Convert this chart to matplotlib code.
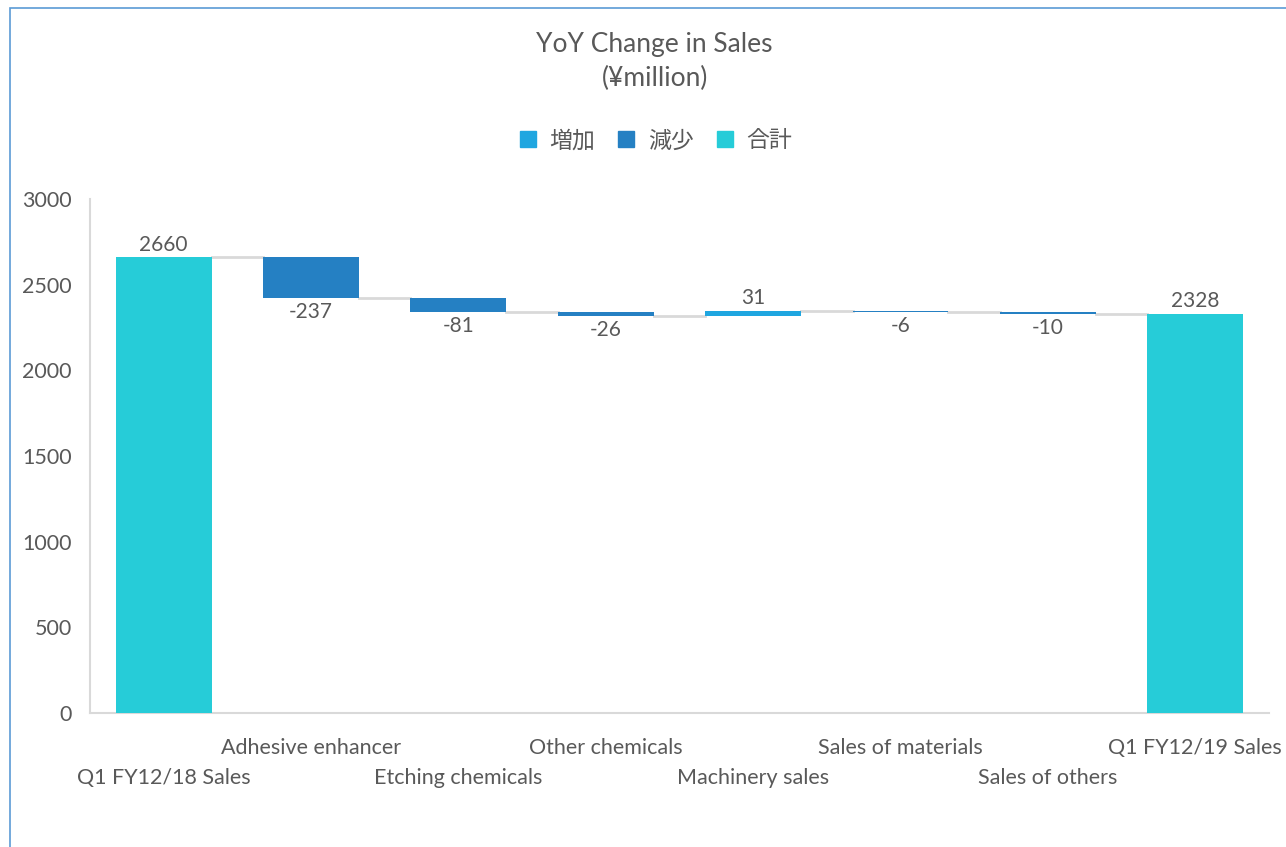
import matplotlib
matplotlib.use('Agg')
import matplotlib.pyplot as plt
from matplotlib.patches import Rectangle
import numpy as np

plt.rcParams['font.family'] = ['Lato', 'Noto Sans CJK JP', 'DejaVu Sans']

# data
categories = ['Q1 FY12/18 Sales', 'Adhesive enhancer', 'Etching chemicals', 'Other chemicals',
              'Machinery sales', 'Sales of materials', 'Sales of others', 'Q1 FY12/19 Sales']
changes = [2660, -237, -81, -26, 31, -6, -10, 2328]
is_total = [True, False, False, False, False, False, False, True]
legend_labels = ['増加', '減少', '合計']

col_up = '#1fa6e0'
col_down = '#2580c3'
col_total = '#26ccd8'
txt = '#595959'
grid_col = '#d9d9d9'

fig = plt.figure(figsize=(12.86, 8.47), dpi=100)
ax = fig.add_axes([0.0700, 0.1582, 0.9166, 0.6068])

bw = 0.65
x = np.arange(len(categories))
level = 0
ends = []
for i, v in enumerate(changes):
    if is_total[i]:
        bottom, height, c = 0, v, col_total
        level = v
    elif v >= 0:
        bottom, height, c = level, v, col_up
        level += v
    else:
        bottom, height, c = level + v, -v, col_down
        level += v
    ax.bar(i, height, bottom=bottom, width=bw, color=c, zorder=3)
    ends.append(level)
    if is_total[i] or v >= 0:
        ax.annotate(str(v), (i, bottom + height), xytext=(0, 2), textcoords='offset points',
                    ha='center', va='bottom', fontsize=15, color=txt)
    else:
        ax.annotate(str(v), (i, bottom), xytext=(0, -3), textcoords='offset points',
                    ha='center', va='top', fontsize=15, color=txt)

# connectors
for i in range(len(categories) - 1):
    ax.plot([i + bw / 2, i + 1 - bw / 2], [ends[i], ends[i]], color=grid_col, lw=2, zorder=2)

ax.set_xlim(-0.5, len(categories) - 0.5)
ax.set_ylim(0, 3000)
ax.set_yticks(np.arange(0, 3001, 500))
ax.tick_params(axis='y', length=0, labelsize=15.5, labelcolor=txt, pad=13)
ax.set_xticks([])
for s in ['top', 'right']:
    ax.spines[s].set_visible(False)
for s in ['left', 'bottom']:
    ax.spines[s].set_color(grid_col)
    ax.spines[s].set_linewidth(1.5)

for i, name in enumerate(categories):
    off = -47 if i % 2 == 0 else -25
    ax.annotate(name, (i, 0), xycoords=('data', 'axes fraction'), xytext=(0, off),
                textcoords='offset points', ha='center', va='center', fontsize=15.5, color=txt)

fig.text(0.509, 0.947, 'YoY Change in Sales', ha='center', va='center', fontsize=19, color=txt)
fig.text(0.509, 0.907, '(¥million)', ha='center', va='center', fontsize=19, color=txt)

handles = [Rectangle((0, 0), 1, 1, color=c) for c in (col_up, col_down, col_total)]
fig.legend(handles, legend_labels, loc='center', bbox_to_anchor=(0.51, 0.834), ncol=3,
           frameon=False, fontsize=16.5, labelcolor=txt, handlelength=0.7, handleheight=0.7,
           handletextpad=0.6, columnspacing=1.0)

fig.patches.append(Rectangle((10 / 1286, -0.1), 1.2, 1.1 - 8 / 847, transform=fig.transFigure,
                             fill=False, edgecolor='#5b9bd5', lw=1.2))

fig.savefig('out.png', dpi=100)
